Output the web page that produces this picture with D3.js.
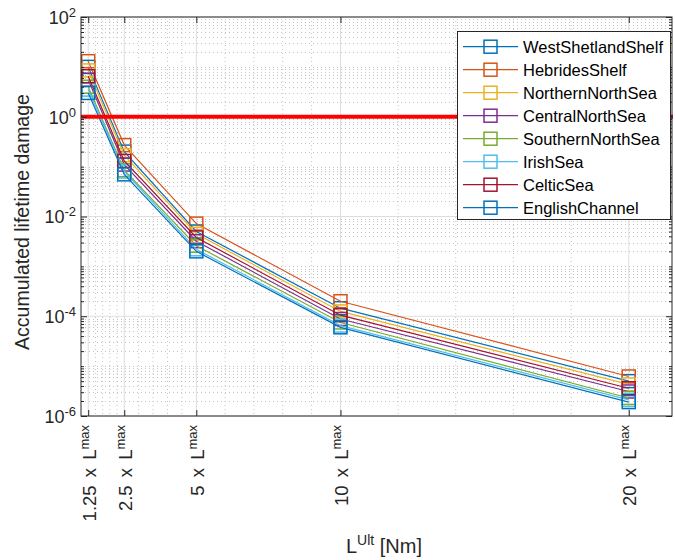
<!DOCTYPE html>
<html>
<head>
<meta charset="utf-8">
<script src="https://cdn.jsdelivr.net/npm/d3@7/dist/d3.min.js"></script>
<style>
  html, body { margin: 0; padding: 0; background: #fff; }
  svg { display: block; font-family: "Liberation Sans", Arial, Helvetica, sans-serif; }
</style>
</head>
<body>
<svg id="chart" width="675" height="560"></svg>
<script>
// Load multiples of the maximum design load (x positions)
const loadMultiples = [1.25, 2.5, 5, 10, 20];
const loadMultipleLabels = ["1.25", "2.5", "5", "10", "20"];

// Accumulated lifetime damage per sea region, one value per load multiple
const westShetlandShelf = [10.0, 0.20, 5.0e-3, 1.45e-4, 5.0e-6];
const hebridesShelf     = [13.0, 0.27, 7.2e-3, 2.0e-4, 6.2e-6];
const northernNorthSea  = [8.5, 0.17, 4.5e-3, 1.25e-4, 4.3e-6];
const centralNorthSea   = [5.5, 0.11, 3.2e-3, 8.8e-5, 3.1e-6];
const southernNorthSea  = [4.0, 0.085, 2.6e-3, 7.5e-5, 2.3e-6];
const irishSea          = [3.5, 0.08, 2.2e-3, 6.5e-5, 2.1e-6];
const celticSea         = [6.5, 0.13, 3.8e-3, 1.05e-4, 3.6e-6];
const englishChannel    = [3.0, 0.07, 2.0e-3, 6.0e-5, 1.9e-6];

const seriesNames = ["WestShetlandShelf", "HebridesShelf", "NorthernNorthSea", "CentralNorthSea",
                     "SouthernNorthSea", "IrishSea", "CelticSea", "EnglishChannel"];
const seriesValues = [westShetlandShelf, hebridesShelf, northernNorthSea, centralNorthSea,
                      southernNorthSea, irishSea, celticSea, englishChannel];

// Damage limit drawn as a horizontal reference line
const damageLimit = 1;

// Decade ticks with labels on the y axis (exponents)
const yLabelExponents = [2, 0, -2, -4, -6];

// ---- styling ----
const colors = ["#0072BD", "#D95319", "#EDB120", "#7E2F8E", "#77AC30", "#4DBEEE", "#A2142F", "#0072BD"];
const axisColor = "#262626";
const plot = { left: 81, right: 672, top: 17, bottom: 416 };

const svg = d3.select("#chart");

const x = d3.scaleLinear().domain([1, 21.5]).range([plot.left, plot.right]);
const y = d3.scaleLog().domain([1e-6, 1e2]).range([plot.bottom, plot.top]);

// minor x grid: four subdivisions between consecutive labelled ticks
const xMinor = [];
for (let i = 0; i < loadMultiples.length - 1; i++) {
  const a = loadMultiples[i], b = loadMultiples[i + 1];
  for (let k = 1; k < 5; k++) xMinor.push(a + (b - a) * k / 5);
}
const yMajor = yLabelExponents.map(e => Math.pow(10, e));
const yMinor = [];
for (let e = -6; e < 2; e++) {
  for (let m = 1; m <= 9; m++) {
    const v = m * Math.pow(10, e);
    if (!yMajor.some(t => Math.abs(t - v) / v < 1e-9)) yMinor.push(v);
  }
}

// ---- grid ----
const grid = svg.append("g");
grid.selectAll("line.xminor").data(xMinor).join("line")
  .attr("x1", d => x(d)).attr("x2", d => x(d))
  .attr("y1", plot.top).attr("y2", plot.bottom)
  .attr("stroke", "#c4c4c4").attr("stroke-width", 1).attr("stroke-dasharray", "1,3");
grid.selectAll("line.yminor").data(yMinor).join("line")
  .attr("x1", plot.left).attr("x2", plot.right)
  .attr("y1", d => Math.round(y(d)) + 0.5).attr("y2", d => Math.round(y(d)) + 0.5)
  .attr("stroke", "#c4c4c4").attr("stroke-width", 1).attr("stroke-dasharray", "1,3");
grid.selectAll("line.xmajor").data(loadMultiples).join("line")
  .attr("x1", d => x(d)).attr("x2", d => x(d))
  .attr("y1", plot.top).attr("y2", plot.bottom)
  .attr("stroke", "#dedede").attr("stroke-width", 1);
grid.selectAll("line.ymajor").data(yMajor).join("line")
  .attr("x1", plot.left).attr("x2", plot.right)
  .attr("y1", d => y(d)).attr("y2", d => y(d))
  .attr("stroke", "#dedede").attr("stroke-width", 1);

// ---- series ----
const line = d3.line().x((d, i) => x(loadMultiples[i])).y(d => y(d));
const markerSize = 13;
seriesValues.forEach((vals, s) => {
  const g = svg.append("g");
  g.append("path").datum(vals).attr("d", line)
    .attr("fill", "none").attr("stroke", colors[s]).attr("stroke-width", 1.2);
  g.selectAll("rect").data(vals).join("rect")
    .attr("x", (d, i) => x(loadMultiples[i]) - markerSize / 2)
    .attr("y", d => y(d) - markerSize / 2)
    .attr("width", markerSize).attr("height", markerSize)
    .attr("fill", "none").attr("stroke", colors[s]).attr("stroke-width", 1.5);
});

// damage limit line
svg.append("line")
  .attr("x1", plot.left).attr("x2", plot.right + 1)
  .attr("y1", y(damageLimit)).attr("y2", y(damageLimit))
  .attr("stroke", "#FF0000").attr("stroke-width", 4);

// ---- axes ----
function styleAxis(g) {
  g.select(".domain").remove();
  g.selectAll(".tick line").attr("stroke", axisColor).attr("stroke-width", 1);
}

// left axis with minor ticks
svg.append("g").attr("transform", `translate(${plot.left},0)`)
  .call(d3.axisLeft(y).tickValues(yMinor).tickSizeInner(-3).tickSizeOuter(0).tickFormat(""))
  .call(styleAxis);
const leftAxis = svg.append("g").attr("transform", `translate(${plot.left},0)`)
  .call(d3.axisLeft(y).tickValues(yMajor).tickSizeInner(-6).tickSizeOuter(0).tickPadding(5))
  .call(styleAxis);
leftAxis.selectAll(".tick text").each(function(d) {
  const t = d3.select(this);
  const e = Math.round(Math.log10(d));
  t.text(null).attr("fill", axisColor).attr("font-size", 18).attr("dy", "0.36em")
   .attr("font-family", "Liberation Sans, Arial, sans-serif");
  t.append("tspan").text("10");
  t.append("tspan").attr("font-size", 13).attr("dy", -7).text(String(e));
});

// right axis ticks (box)
svg.append("g").attr("transform", `translate(${plot.right},0)`)
  .call(d3.axisRight(y).tickValues(yMinor).tickSizeInner(-3).tickSizeOuter(0).tickFormat(""))
  .call(styleAxis);
svg.append("g").attr("transform", `translate(${plot.right},0)`)
  .call(d3.axisRight(y).tickValues(yMajor).tickSizeInner(-6).tickSizeOuter(0).tickFormat(""))
  .call(styleAxis);

// top axis ticks (box)
svg.append("g").attr("transform", `translate(0,${plot.top})`)
  .call(d3.axisTop(x).tickValues(loadMultiples).tickSizeInner(-6).tickSizeOuter(0).tickFormat(""))
  .call(styleAxis);

// bottom axis with rotated labels
const bottomAxis = svg.append("g").attr("transform", `translate(0,${plot.bottom})`)
  .call(d3.axisBottom(x).tickValues(loadMultiples).tickSizeInner(-6).tickSizeOuter(0))
  .call(styleAxis);
bottomAxis.selectAll(".tick text").each(function(d, i) {
  const t = d3.select(this);
  t.text(null)
   .attr("fill", axisColor).attr("font-size", 18.5)
   .attr("font-family", "Liberation Sans, Arial, sans-serif")
   .attr("text-anchor", "end")
   .attr("word-spacing", 3)
   .attr("transform", "translate(0,9) rotate(-90)")
   .attr("x", 0).attr("y", 7).attr("dy", 0);
  t.append("tspan").text(loadMultipleLabels[i] + " x L");
  t.append("tspan").attr("font-size", 13).attr("dy", -7).text("max");
});

// plot box
svg.append("rect")
  .attr("x", plot.left).attr("y", plot.top)
  .attr("width", plot.right - plot.left).attr("height", plot.bottom - plot.top)
  .attr("fill", "none").attr("stroke", axisColor).attr("stroke-width", 1);

// axis titles
svg.append("text")
  .attr("transform", `translate(29,222) rotate(-90)`)
  .attr("text-anchor", "middle").attr("fill", axisColor).attr("font-size", 19.5)
  .text("Accumulated lifetime damage");

const xTitle = svg.append("text")
  .attr("x", 384).attr("y", 553)
  .attr("text-anchor", "middle").attr("fill", axisColor).attr("font-size", 20);
xTitle.append("tspan").text("L");
xTitle.append("tspan").attr("font-size", 14).attr("dy", -8).text("Ult");
xTitle.append("tspan").attr("dy", 8).text(" [Nm]");

// ---- legend ----
const legend = svg.append("g");
legend.append("rect")
  .attr("x", 457.5).attr("y", 31.5).attr("width", 213).attr("height", 188)
  .attr("fill", "#fff").attr("stroke", axisColor).attr("stroke-width", 1);
const rowY = d3.scaleLinear().domain([0, seriesNames.length - 1]).range([46.7, 207.7]);
seriesNames.forEach((name, s) => {
  const cy = rowY(s);
  legend.append("line").attr("x1", 463).attr("x2", 518).attr("y1", cy).attr("y2", cy)
    .attr("stroke", colors[s]).attr("stroke-width", 1.2);
  legend.append("rect").attr("x", 490.5 - markerSize / 2).attr("y", cy - markerSize / 2)
    .attr("width", markerSize).attr("height", markerSize)
    .attr("fill", "none").attr("stroke", colors[s]).attr("stroke-width", 1.5);
  legend.append("text").attr("x", 523).attr("y", cy + 6)
    .attr("font-size", 16.5).attr("fill", "#000").text(name);
});
</script>
</body>
</html>
